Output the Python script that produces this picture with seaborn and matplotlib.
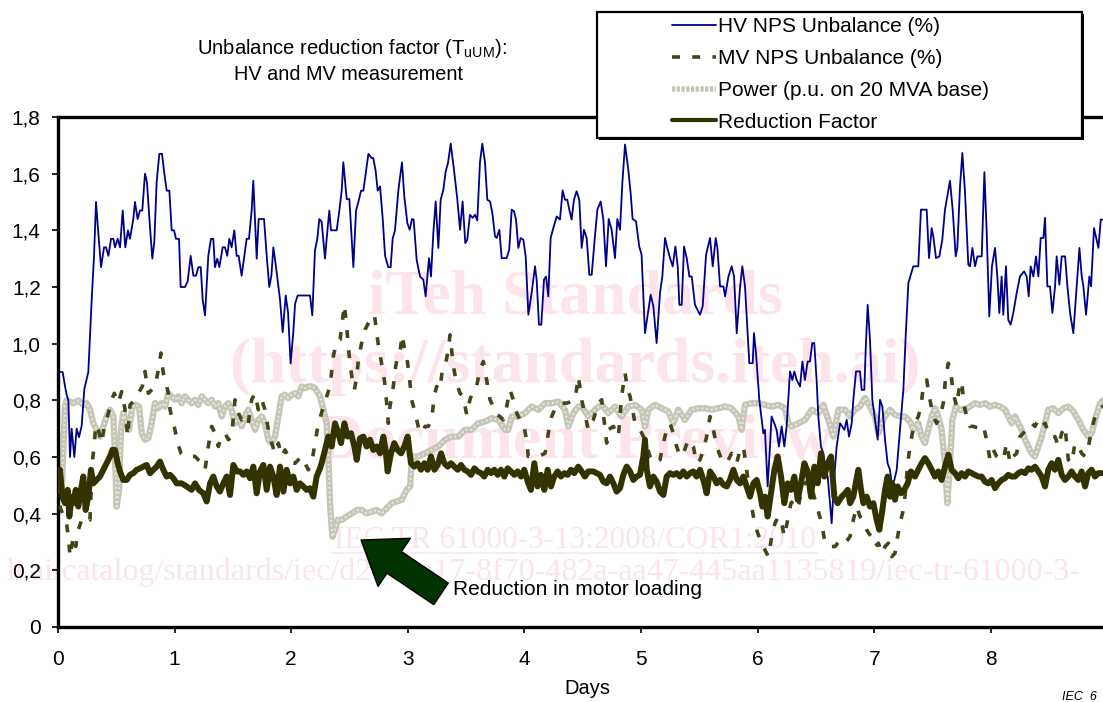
import numpy as np
import pandas as pd
import matplotlib
matplotlib.use("Agg")
import matplotlib.pyplot as plt
import seaborn as sns
from matplotlib.lines import Line2D
from matplotlib.patches import Rectangle, FancyArrowPatch

# ---------------- data ----------------
hv_days = [
 0.017, 0.04, 0.06, 0.074, 0.089, 0.103, 0.117, 0.14, 0.16, 0.18,
 0.203, 0.226, 0.26, 0.289, 0.309, 0.326, 0.346, 0.369, 0.395, 0.412,
 0.432, 0.455, 0.475, 0.489, 0.512, 0.532, 0.555, 0.577, 0.60, 0.617,
 0.646, 0.66, 0.683, 0.703, 0.723, 0.746, 0.763, 0.789, 0.809, 0.826,
 0.846, 0.869, 0.892, 0.909, 0.932, 0.955, 0.975, 0.995, 1.012, 1.026,
 1.038, 1.052, 1.089, 1.112, 1.138, 1.161, 1.184, 1.204, 1.224, 1.241,
 1.261, 1.289, 1.312, 1.332, 1.346, 1.366, 1.384, 1.412, 1.432, 1.452,
 1.469, 1.489, 1.512, 1.532, 1.549, 1.575, 1.598, 1.618, 1.638, 1.661,
 1.675, 1.704, 1.721, 1.767, 1.79, 1.812, 1.83, 1.847, 1.87, 1.904,
 1.927, 1.953, 1.973, 1.995, 2.018, 2.033, 2.055, 2.161, 2.181, 2.204,
 2.224, 2.241, 2.261, 2.29, 2.304, 2.327, 2.341, 2.39, 2.413, 2.433,
 2.447, 2.476, 2.499, 2.533, 2.556, 2.576, 2.599, 2.619, 2.642, 2.662,
 2.69, 2.704, 2.724, 2.742, 2.762, 2.785, 2.805, 2.833, 2.853, 2.87,
 2.89, 2.919,
 2.927, 2.95, 2.97, 2.996, 3.016, 3.036, 3.05, 3.076, 3.105, 3.133,
 3.153, 3.182, 3.199, 3.219, 3.239, 3.262, 3.282, 3.305, 3.325, 3.345,
 3.368, 3.396, 3.425, 3.448, 3.47, 3.493, 3.51, 3.533, 3.556, 3.576,
 3.596, 3.619, 3.639, 3.662, 3.682, 3.705, 3.725, 3.748, 3.762, 3.785,
 3.805, 3.848, 3.87, 3.891, 3.911, 3.928, 3.948, 3.968, 3.991, 4.011,
 4.034, 4.062, 4.091, 4.105, 4.125, 4.145, 4.168, 4.185, 4.205, 4.225,
 4.248, 4.277, 4.305, 4.328, 4.348, 4.368, 4.385, 4.405, 4.425, 4.448,
 4.471, 4.491, 4.511, 4.534, 4.557, 4.577, 4.605, 4.626, 4.654, 4.677,
 4.7, 4.723, 4.748, 4.777, 4.797, 4.82, 4.84, 4.863, 4.891, 4.911,
 4.928, 4.957, 4.985, 5.005, 5.034, 5.057, 5.083, 5.106, 5.134, 5.163,
 5.183, 5.206, 5.226, 5.249, 5.272, 5.295, 5.315, 5.329, 5.349, 5.369,
 5.392, 5.415, 5.435, 5.463, 5.506, 5.529, 5.558, 5.592, 5.615, 5.641,
 5.655, 5.678, 5.707, 5.721, 5.75, 5.778, 5.798, 5.821, 5.85, 5.869,
 5.892, 5.906, 5.929, 5.958, 5.969, 5.986, 6.015,
 6.049, 6.063, 6.086, 6.106, 6.12, 6.143, 6.163, 6.183, 6.206, 6.229,
 6.249, 6.263, 6.278, 6.298, 6.315, 6.335, 6.364, 6.384, 6.406, 6.429,
 6.449, 6.469, 6.486, 6.506, 6.521, 6.543, 6.564, 6.584, 6.601, 6.621,
 6.635, 6.658, 6.678, 6.707,
 6.744, 6.764, 6.784, 6.807, 6.821, 6.844, 6.878, 6.893, 6.915, 6.927,
 6.944, 6.964, 6.984, 7.007, 7.03, 7.05, 7.07, 7.093, 7.115, 7.135,
 7.15, 7.173, 7.193, 7.221, 7.25, 7.27,
 7.293, 7.335, 7.378, 7.401, 7.45, 7.47, 7.493, 7.507, 7.53, 7.559,
 7.584, 7.607, 7.65, 7.673, 7.699, 7.713, 7.736, 7.756, 7.779, 7.807,
 7.822, 7.842, 7.865, 7.885, 7.922, 7.945, 7.965, 7.987, 8.01, 8.036,
 8.056, 8.073, 8.093, 8.107, 8.13, 8.15, 8.17, 8.193, 8.222, 8.25,
 8.285, 8.308, 8.325, 8.342, 8.365, 8.388, 8.408, 8.428, 8.451, 8.465,
 8.485, 8.508, 8.528, 8.551, 8.565, 8.588, 8.608, 8.637, 8.657, 8.68,
 8.708, 8.737, 8.76, 8.78, 8.794, 8.817, 8.845, 8.86, 8.885, 8.923,
 8.943, 8.963,
]
hv_vals = [
 0.90, 0.90, 0.85, 0.82, 0.80, 0.60, 0.70, 0.60, 0.70, 0.67,
 0.71, 0.84, 0.90, 1.155, 1.31, 1.50, 1.39, 1.27, 1.34, 1.34,
 1.31, 1.37, 1.37, 1.34, 1.37, 1.34, 1.47, 1.34, 1.40, 1.37,
 1.44, 1.50, 1.44, 1.47, 1.47, 1.60, 1.57, 1.41, 1.30, 1.36,
 1.57, 1.67, 1.67, 1.61, 1.54, 1.54, 1.40, 1.40, 1.37, 1.37,
 1.37, 1.20, 1.20, 1.22, 1.31, 1.24, 1.24, 1.27, 1.27, 1.155,
 1.10, 1.31, 1.37, 1.37, 1.27, 1.30, 1.27, 1.34, 1.34, 1.31,
 1.37, 1.34, 1.40, 1.31, 1.31, 1.24, 1.31, 1.37, 1.37, 1.47,
 1.575, 1.30, 1.44, 1.44, 1.31, 1.20, 1.24, 1.34, 1.27, 1.155,
 1.04, 1.17, 1.11, 0.93, 1.04, 1.14, 1.17, 1.17, 1.10, 1.33,
 1.37, 1.44, 1.43, 1.30, 1.37, 1.47, 1.40, 1.40, 1.47, 1.54,
 1.64, 1.51, 1.51, 1.27, 1.47, 1.50, 1.54, 1.54, 1.61, 1.67,
 1.655, 1.655, 1.61, 1.54, 1.555, 1.44, 1.31, 1.27, 1.27, 1.37,
 1.40, 1.54,
 1.567, 1.64, 1.52, 1.426, 1.402, 1.44, 1.438, 1.296, 1.237, 1.226,
 1.167, 1.302, 1.237, 1.391, 1.502, 1.338, 1.508, 1.544, 1.608, 1.638,
 1.706, 1.614, 1.508, 1.402, 1.502, 1.355, 1.367, 1.455, 1.444, 1.455,
 1.435, 1.64, 1.706, 1.64, 1.508, 1.502, 1.461, 1.379, 1.373, 1.402,
 1.302, 1.302, 1.332, 1.473, 1.467, 1.438, 1.338, 1.373, 1.367, 1.308,
 1.102, 1.179, 1.273, 1.226, 1.067, 1.067, 1.226, 1.237, 1.167, 1.373,
 1.408, 1.449, 1.438, 1.541, 1.508, 1.508, 1.473, 1.438, 1.508, 1.538,
 1.508, 1.338, 1.402, 1.373, 1.243, 1.243, 1.379, 1.473, 1.502, 1.438,
 1.273, 1.44, 1.402, 1.302, 1.44, 1.402, 1.567, 1.703, 1.614, 1.532,
 1.44, 1.432, 1.343, 1.314, 1.037, 1.102, 1.173, 1.132, 1.002, 1.179,
 1.237, 1.373, 1.338, 1.302, 1.273, 1.343, 1.273, 1.137, 1.137, 1.343,
 1.302, 1.237, 1.237, 1.137, 1.102, 1.132, 1.314, 1.373, 1.273, 1.373,
 1.338, 1.202, 1.202, 1.167, 1.237, 1.273, 1.237, 1.037, 1.202, 1.273,
 1.202, 1.102, 0.931, 0.931, 1.037, 0.967, 0.801,
 0.684, 0.696, 0.496, 0.637, 0.743, 0.719, 0.696, 0.637, 0.708, 0.637,
 0.708, 0.802, 0.902, 0.872, 0.902, 0.872, 0.849, 0.937, 0.872, 0.937,
 0.937, 1.002, 1.002, 0.872, 0.743, 0.637, 0.613, 0.555, 0.531, 0.437,
 0.366, 0.531, 0.637, 0.719,
 0.696, 0.731, 0.672, 0.719, 0.802, 0.902, 0.902, 0.837, 0.837, 0.978,
 1.137, 1.014, 0.802, 0.731, 0.661, 0.802, 0.778, 0.661, 0.578, 0.555,
 0.507, 0.519, 0.555, 0.696, 0.837, 1.026,
 1.214, 1.273, 1.273, 1.473, 1.473, 1.302, 1.408, 1.379, 1.302, 1.308,
 1.367, 1.473, 1.575, 1.473, 1.308, 1.338, 1.555, 1.673, 1.532, 1.279,
 1.273, 1.338, 1.273, 1.308, 1.308, 1.605, 1.391, 1.096, 1.273, 1.338,
 1.237, 1.108, 1.237, 1.102, 1.273, 1.084, 1.067, 1.108, 1.179, 1.237,
 1.255, 1.237, 1.167, 1.273, 1.237, 1.308, 1.237, 1.373, 1.373, 1.444,
 1.202, 1.202, 1.108, 1.202, 1.308, 1.208, 1.308, 1.308, 1.202, 1.108,
 1.037, 1.202, 1.338, 1.237, 1.202, 1.102, 1.237, 1.202, 1.408, 1.338,
 1.438, 1.438,
]

mv_days = [
 0.0, 0.02, 0.074, 0.094, 0.103, 0.132, 0.152, 0.174, 0.203, 0.246,
 0.274, 0.294, 0.312, 0.323, 0.346, 0.375, 0.397, 0.432, 0.46, 0.483,
 0.517, 0.546, 0.575, 0.597, 0.618, 0.66, 0.689, 0.723, 0.746, 0.775,
 0.832, 0.861, 0.883, 0.903, 0.923, 0.946, 0.961, 0.981, 1.003, 1.026,
 1.055, 1.089, 1.175, 1.232, 1.261, 1.289, 1.318, 1.347, 1.375, 1.404,
 1.432, 1.461, 1.489, 1.518, 1.547, 1.575, 1.604, 1.632, 1.661, 1.69,
 1.718, 1.747, 1.775, 1.804, 1.833, 1.861, 1.89, 1.918, 1.947, 1.975,
 2.004, 2.033, 2.09, 2.118, 2.147, 2.176, 2.204, 2.233,
 2.304, 2.333, 2.361, 2.39, 2.419, 2.439, 2.456, 2.476, 2.49, 2.504,
 2.524, 2.542, 2.562, 2.576, 2.604, 2.633, 2.662, 2.69, 2.713, 2.727,
 2.747, 2.77, 2.79, 2.804, 2.819, 2.833, 2.847, 2.876, 2.896, 2.913,
 2.933, 2.953, 2.97, 2.99, 3.01, 3.033, 3.056, 3.076, 3.096, 3.125,
 3.147, 3.176, 3.204, 3.227, 3.247, 3.276, 3.296, 3.319, 3.348, 3.362,
 3.376, 3.39, 3.419, 3.448, 3.476, 3.505, 3.533, 3.562, 3.59, 3.619,
 3.648, 3.676, 3.705, 3.733, 3.762, 3.791, 3.819, 3.848, 3.876, 3.905,
 3.934, 3.962, 3.991, 4.019, 4.033, 4.076, 4.119, 4.177, 4.205, 4.234,
 4.277, 4.319, 4.362, 4.405, 4.434,
 4.463, 4.491, 4.548, 4.591, 4.634, 4.663, 4.706, 4.72, 4.763, 4.806,
 4.834, 4.863, 4.886, 4.906, 4.949, 4.992, 5.034, 5.077, 5.12, 5.163,
 5.192, 5.22, 5.249, 5.277, 5.306, 5.334, 5.363, 5.406, 5.449, 5.477,
 5.506, 5.535, 5.563, 5.592, 5.621, 5.649, 5.692, 5.735, 5.777, 5.821,
 5.849, 5.878, 5.906, 5.935, 5.964, 6.001, 6.035, 6.064, 6.092, 6.121,
 6.149, 6.178, 6.207, 6.229, 6.258, 6.286, 6.321, 6.349, 6.378, 6.406,
 6.449, 6.492, 6.55, 6.578, 6.621, 6.664, 6.707,
 6.75, 6.793, 6.821, 6.85, 6.878, 6.907, 6.935, 6.973, 7.007, 7.036,
 7.064, 7.093, 7.121, 7.15, 7.178, 7.201, 7.221, 7.25, 7.27, 7.287,
 7.307, 7.327, 7.35, 7.378, 7.401, 7.421, 7.45, 7.478, 7.507, 7.535,
 7.564, 7.593, 7.613, 7.636, 7.658, 7.678, 7.707, 7.727, 7.75, 7.773,
 7.793, 7.821, 7.85, 7.893, 7.921, 7.944, 7.964, 7.993, 8.022, 8.05,
 8.079, 8.107, 8.136, 8.165, 8.193, 8.222, 8.25, 8.279, 8.308, 8.351,
 8.379, 8.408, 8.436, 8.465, 8.508, 8.551, 8.579, 8.608, 8.636, 8.665,
 8.694, 8.722, 8.751, 8.779, 8.808, 8.837, 8.865, 8.894, 8.922, 8.962,
]
mv_vals = [
 0.50, 0.42, 0.366, 0.296, 0.248, 0.319, 0.284, 0.343, 0.378, 0.39,
 0.378, 0.578, 0.649, 0.714, 0.696, 0.649, 0.708, 0.755, 0.802, 0.825,
 0.79, 0.831, 0.767, 0.672, 0.784, 0.802, 0.825, 0.849, 0.902, 0.825,
 0.849, 0.908, 0.967, 0.896, 0.867, 0.825, 0.767, 0.731, 0.696, 0.649,
 0.613, 0.602, 0.602, 0.578, 0.555, 0.637, 0.708, 0.684, 0.637, 0.672,
 0.684, 0.661, 0.672, 0.802, 0.755, 0.731, 0.743, 0.719, 0.802, 0.825,
 0.767, 0.802, 0.767, 0.696, 0.649, 0.613, 0.649, 0.602, 0.625, 0.602,
 0.578, 0.578, 0.602, 0.578, 0.555, 0.578, 0.649, 0.719,
 0.814, 0.849, 0.955, 1.008, 1.014, 1.079, 1.137, 1.061, 0.99, 0.931,
 0.872, 0.837, 0.884, 0.943, 1.002, 1.049, 1.073, 1.09, 1.102, 1.061,
 0.996, 0.943, 0.896, 0.855, 0.79, 0.719, 0.778, 0.849, 0.92, 0.955,
 0.973, 1.031, 0.984, 0.955, 0.896, 0.802, 0.767, 0.731, 0.696, 0.684,
 0.708, 0.708, 0.731, 0.814, 0.849, 0.837, 0.908, 0.92, 0.978, 1.031,
 0.978, 0.92, 0.861, 0.825, 0.814, 0.749, 0.802, 0.837, 0.849, 0.908,
 0.937, 0.872, 0.802, 0.778, 0.749, 0.743, 0.731, 0.778, 0.837, 0.802,
 0.755, 0.731, 0.719, 0.661, 0.602, 0.602, 0.602, 0.613, 0.684, 0.743,
 0.784, 0.79, 0.79, 0.796, 0.802,
 0.884, 0.802, 0.696, 0.731, 0.79, 0.802, 0.649, 0.696, 0.708, 0.672,
 0.814, 0.896, 0.837, 0.814, 0.719, 0.696, 0.661, 0.602, 0.578, 0.59,
 0.649, 0.696, 0.719, 0.684, 0.637, 0.602, 0.613, 0.661, 0.637, 0.578,
 0.59, 0.625, 0.672, 0.743, 0.696, 0.637, 0.59, 0.578, 0.613, 0.578,
 0.625, 0.637, 0.555, 0.46, 0.39, 0.331, 0.296, 0.272, 0.248, 0.319,
 0.366, 0.39, 0.366, 0.319, 0.378, 0.437, 0.449, 0.425, 0.484, 0.507,
 0.519, 0.449, 0.366, 0.296, 0.284, 0.284, 0.307,
 0.296, 0.319, 0.378, 0.425, 0.39, 0.366, 0.343, 0.319, 0.284, 0.296,
 0.26, 0.284, 0.296, 0.248, 0.26, 0.319, 0.366, 0.413, 0.484, 0.578,
 0.637, 0.684, 0.719, 0.743, 0.778, 0.849, 0.872, 0.802, 0.743, 0.719,
 0.743, 0.79, 0.884, 0.931, 0.896, 0.825, 0.778, 0.837, 0.867, 0.778,
 0.743, 0.708, 0.708, 0.702, 0.684, 0.696, 0.661, 0.59, 0.625, 0.602,
 0.59, 0.59, 0.649, 0.578, 0.602, 0.613, 0.672, 0.684, 0.708, 0.719,
 0.708, 0.731, 0.708, 0.719, 0.672, 0.672, 0.637, 0.684, 0.708, 0.59,
 0.578, 0.649, 0.637, 0.613, 0.602, 0.637, 0.696, 0.743, 0.767, 0.78,
]

power_days = [
 0.0, 0.03, 0.06, 0.074, 0.132, 0.174, 0.217, 0.246, 0.274, 0.303,
 0.332, 0.36, 0.389, 0.417, 0.446, 0.475, 0.489, 0.503, 0.523, 0.54,
 0.56, 0.589, 0.609, 0.638, 0.666, 0.695, 0.718, 0.746, 0.775, 0.803,
 0.832, 0.861, 0.889, 0.918, 0.946, 0.975, 1.003, 1.032, 1.061, 1.089,
 1.118, 1.146, 1.175, 1.204, 1.232, 1.261, 1.289, 1.318, 1.347, 1.375,
 1.404, 1.432, 1.461, 1.489, 1.518, 1.547, 1.575, 1.604, 1.632, 1.661,
 1.69, 1.718, 1.747, 1.775, 1.804, 1.833, 1.861, 1.89, 1.918, 1.947,
 1.975, 2.004, 2.033, 2.061, 2.09, 2.118, 2.147, 2.176, 2.204,
 2.247, 2.276, 2.304, 2.318, 2.333, 2.353, 2.376, 2.399, 2.433,
 2.476, 2.519, 2.562, 2.604, 2.647, 2.69, 2.733, 2.776, 2.819, 2.861,
 2.904, 2.947, 2.99, 3.019, 3.033, 3.047, 3.09, 3.147, 3.204, 3.262,
 3.319, 3.376, 3.433, 3.49, 3.547, 3.605, 3.662, 3.719, 3.776, 3.834,
 3.862, 3.891, 3.948, 4.005, 4.062, 4.119, 4.177, 4.234, 4.291, 4.348,
 4.377, 4.42, 4.462,
 4.491, 4.548, 4.606, 4.663, 4.72, 4.777, 4.834, 4.892, 4.949, 5.006,
 5.034, 5.063, 5.12, 5.177, 5.234, 5.277, 5.32, 5.377, 5.434, 5.492,
 5.549, 5.606, 5.663, 5.72, 5.777, 5.835, 5.863, 5.892, 5.949, 6.006,
 6.063, 6.12, 6.178, 6.235, 6.264, 6.292, 6.35, 6.407, 6.464, 6.521,
 6.564, 6.607, 6.65, 6.693,
 6.75, 6.793, 6.835, 6.878, 6.921, 6.964, 7.007, 7.036, 7.064,
 7.093, 7.135, 7.178, 7.221, 7.264, 7.307, 7.335, 7.378, 7.407, 7.435,
 7.464, 7.493, 7.521, 7.55, 7.578, 7.607, 7.627, 7.65, 7.67, 7.699,
 7.736, 7.779, 7.821, 7.864, 7.907, 7.95, 7.993, 8.036, 8.079, 8.122,
 8.15, 8.179, 8.207, 8.236, 8.265, 8.293, 8.322, 8.35, 8.379, 8.408,
 8.436, 8.465, 8.493, 8.536, 8.579, 8.622, 8.665, 8.708, 8.751, 8.794,
 8.837, 8.865, 8.894, 8.937, 8.962,
]
power_vals = [
 0.47, 0.46, 0.78, 0.80, 0.79, 0.80, 0.784, 0.79, 0.767, 0.719,
 0.696, 0.672, 0.708, 0.743, 0.767, 0.743, 0.602, 0.425, 0.484, 0.696,
 0.755, 0.719, 0.696, 0.778, 0.784, 0.778, 0.684, 0.661, 0.666, 0.719,
 0.79, 0.772, 0.79, 0.778, 0.825, 0.814, 0.802, 0.814, 0.79, 0.814,
 0.802, 0.79, 0.802, 0.784, 0.814, 0.802, 0.79, 0.802, 0.778, 0.79,
 0.743, 0.778, 0.79, 0.767, 0.719, 0.743, 0.708, 0.743, 0.767, 0.731,
 0.696, 0.731, 0.743, 0.719, 0.661, 0.649, 0.672, 0.743, 0.814, 0.82,
 0.808, 0.82, 0.825, 0.814, 0.849, 0.843, 0.849, 0.849, 0.843,
 0.814, 0.767, 0.719, 0.602, 0.437, 0.319, 0.343, 0.378, 0.378,
 0.39, 0.401, 0.413, 0.413, 0.401, 0.407, 0.413, 0.401, 0.419, 0.437,
 0.443, 0.449, 0.484, 0.496, 0.578, 0.602, 0.602, 0.613, 0.625, 0.637,
 0.661, 0.672, 0.672, 0.696, 0.696, 0.719, 0.725, 0.737, 0.731, 0.696,
 0.696, 0.743, 0.743, 0.755, 0.778, 0.767, 0.79, 0.79, 0.796, 0.767,
 0.708, 0.755, 0.778,
 0.778, 0.743, 0.767, 0.784, 0.755, 0.778, 0.743, 0.778, 0.784, 0.767,
 0.708, 0.767, 0.784, 0.772, 0.761, 0.719, 0.767, 0.731, 0.767, 0.772,
 0.772, 0.767, 0.772, 0.778, 0.772, 0.743, 0.696, 0.784, 0.79, 0.79,
 0.784, 0.778, 0.784, 0.772, 0.719, 0.708, 0.719, 0.731, 0.767, 0.755,
 0.784, 0.731, 0.672, 0.767,
 0.767, 0.743, 0.767, 0.778, 0.808, 0.778, 0.743, 0.684, 0.719,
 0.743, 0.767, 0.749, 0.743, 0.743, 0.725, 0.696, 0.719, 0.672, 0.649,
 0.696, 0.743, 0.772, 0.743, 0.696, 0.578, 0.437, 0.578, 0.731, 0.778,
 0.767, 0.767, 0.778, 0.79, 0.784, 0.79, 0.778, 0.784, 0.778, 0.767,
 0.743, 0.719, 0.743, 0.719, 0.696, 0.661, 0.637, 0.613, 0.602, 0.637,
 0.672, 0.719, 0.767, 0.772, 0.755, 0.772, 0.778, 0.761, 0.731, 0.696,
 0.672, 0.684, 0.731, 0.79, 0.80,
]

rf_days = [
 0.017, 0.037, 0.06, 0.083, 0.097, 0.117, 0.132, 0.152, 0.174, 0.197,
 0.217, 0.237, 0.26, 0.283, 0.303, 0.332, 0.36, 0.389, 0.417, 0.446,
 0.466, 0.489, 0.512, 0.532, 0.56, 0.589, 0.617, 0.646, 0.675, 0.703,
 0.732, 0.76, 0.789, 0.818, 0.846, 0.875, 0.903, 0.932, 0.961, 0.989,
 1.018, 1.061, 1.104, 1.146, 1.175, 1.209, 1.246, 1.275, 1.304, 1.332,
 1.361, 1.389, 1.418, 1.447, 1.475, 1.504, 1.532, 1.561, 1.589, 1.618,
 1.647, 1.675, 1.704, 1.732, 1.761, 1.79, 1.818, 1.847, 1.875, 1.904,
 1.933, 1.961, 1.99, 2.018, 2.047, 2.075, 2.104, 2.133, 2.161, 2.19,
 2.218, 2.247,
 2.261, 2.29, 2.318, 2.347, 2.376, 2.404, 2.427, 2.456, 2.484, 2.513,
 2.542, 2.562, 2.59, 2.619, 2.647, 2.676, 2.704, 2.733, 2.762, 2.79,
 2.81, 2.827, 2.856, 2.884, 2.913, 2.942, 2.97, 2.999, 3.027, 3.056,
 3.085, 3.113, 3.142, 3.17, 3.199, 3.228, 3.256, 3.285, 3.313, 3.342,
 3.37, 3.399, 3.428, 3.456, 3.485, 3.513, 3.542, 3.571, 3.599, 3.628,
 3.656, 3.685, 3.714, 3.742, 3.771, 3.799, 3.828, 3.856, 3.885, 3.914,
 3.942, 3.971, 3.999, 4.028, 4.056, 4.085, 4.113, 4.142, 4.171, 4.199,
 4.228, 4.256, 4.285, 4.313, 4.342, 4.371, 4.399, 4.428, 4.462,
 4.491, 4.519, 4.548, 4.591, 4.62, 4.648, 4.677, 4.705, 4.734, 4.763,
 4.791, 4.82, 4.848, 4.877, 4.906, 4.934, 4.963, 4.991, 5.02, 5.034,
 5.049, 5.077, 5.106, 5.134, 5.163, 5.192, 5.22, 5.249, 5.277, 5.306,
 5.334, 5.363, 5.392, 5.42, 5.449, 5.477, 5.506, 5.535, 5.563, 5.592,
 5.621, 5.649, 5.678, 5.706, 5.735, 5.763, 5.792, 5.821, 5.849, 5.878,
 5.906, 5.935, 5.964, 5.992, 6.021, 6.041, 6.064, 6.086, 6.115, 6.144,
 6.172, 6.201, 6.229, 6.258, 6.286, 6.315, 6.344, 6.372, 6.401, 6.429,
 6.458, 6.487, 6.515, 6.544, 6.572, 6.601, 6.63, 6.658, 6.686,
 6.721, 6.75, 6.773, 6.793, 6.821, 6.841, 6.864, 6.887, 6.907, 6.935,
 6.964, 6.993, 7.021, 7.044, 7.07, 7.093, 7.115, 7.135, 7.155, 7.178,
 7.201, 7.23, 7.258, 7.287, 7.315, 7.35, 7.378, 7.407, 7.435, 7.464,
 7.493, 7.521, 7.55, 7.578, 7.607, 7.636, 7.664, 7.693, 7.721, 7.75,
 7.779, 7.807, 7.836, 7.864, 7.893, 7.921, 7.95, 7.979, 8.007, 8.036,
 8.064, 8.093, 8.122, 8.15, 8.179, 8.207, 8.236, 8.265, 8.293, 8.322,
 8.35, 8.379, 8.408, 8.436, 8.465, 8.493, 8.522, 8.55, 8.579, 8.608,
 8.636, 8.665, 8.693, 8.722, 8.75, 8.779, 8.808, 8.836, 8.865, 8.893,
 8.922, 8.95,
]
rf_vals = [
 0.555, 0.46, 0.437, 0.484, 0.39, 0.46, 0.437, 0.484, 0.425, 0.484,
 0.531, 0.413, 0.46, 0.555, 0.507, 0.519, 0.531, 0.555, 0.578, 0.602,
 0.625, 0.625, 0.578, 0.549, 0.519, 0.519, 0.537, 0.543, 0.555, 0.56,
 0.566, 0.572, 0.543, 0.555, 0.566, 0.584, 0.555, 0.531, 0.537, 0.525,
 0.507, 0.507, 0.496, 0.484, 0.507, 0.484, 0.472, 0.443, 0.507, 0.531,
 0.496, 0.478, 0.507, 0.531, 0.466, 0.572, 0.549, 0.549, 0.537, 0.549,
 0.525, 0.566, 0.472, 0.549, 0.572, 0.484, 0.566, 0.531, 0.466, 0.566,
 0.478, 0.555, 0.507, 0.531, 0.484, 0.507, 0.496, 0.484, 0.49, 0.46,
 0.531, 0.56,
 0.578, 0.625, 0.672, 0.637, 0.719, 0.684, 0.649, 0.719, 0.672, 0.684,
 0.637, 0.59, 0.666, 0.672, 0.637, 0.661, 0.625, 0.637, 0.613, 0.672,
 0.625, 0.549, 0.613, 0.649, 0.625, 0.613, 0.637, 0.672, 0.578, 0.566,
 0.578, 0.555, 0.578, 0.555, 0.602, 0.555, 0.572, 0.613, 0.578, 0.566,
 0.578, 0.566, 0.555, 0.572, 0.555, 0.549, 0.537, 0.56, 0.549, 0.543,
 0.531, 0.555, 0.543, 0.555, 0.537, 0.555, 0.531, 0.56, 0.549, 0.537,
 0.549, 0.531, 0.555, 0.513, 0.484, 0.578, 0.496, 0.537, 0.484, 0.555,
 0.496, 0.531, 0.549, 0.531, 0.543, 0.537, 0.555, 0.543, 0.566,
 0.549, 0.531, 0.549, 0.549, 0.543, 0.537, 0.513, 0.507, 0.531, 0.507,
 0.478, 0.49, 0.537, 0.566, 0.549, 0.519, 0.531, 0.537, 0.602, 0.661,
 0.555, 0.496, 0.531, 0.513, 0.478, 0.466, 0.531, 0.543, 0.537, 0.543,
 0.531, 0.549, 0.531, 0.543, 0.549, 0.531, 0.555, 0.519, 0.472, 0.549,
 0.531, 0.507, 0.519, 0.502, 0.496, 0.519, 0.555, 0.519, 0.507, 0.531,
 0.496, 0.46, 0.507, 0.519, 0.472, 0.425, 0.46, 0.39, 0.472, 0.555,
 0.602, 0.531, 0.437, 0.507, 0.484, 0.531, 0.449, 0.507, 0.578, 0.549,
 0.46, 0.566, 0.507, 0.613, 0.531, 0.578, 0.602, 0.46, 0.437,
 0.46, 0.472, 0.484, 0.437, 0.46, 0.507, 0.555, 0.484, 0.437, 0.46,
 0.425, 0.437, 0.378, 0.343, 0.413, 0.484, 0.531, 0.46, 0.507, 0.449,
 0.496, 0.472, 0.484, 0.507, 0.549, 0.531, 0.555, 0.578, 0.596, 0.578,
 0.555, 0.531, 0.549, 0.519, 0.566, 0.608, 0.555, 0.543, 0.525, 0.543,
 0.531, 0.549, 0.543, 0.537, 0.531, 0.531, 0.513, 0.507, 0.519, 0.49,
 0.507, 0.519, 0.525, 0.537, 0.531, 0.531, 0.543, 0.549, 0.543, 0.56,
 0.555, 0.566, 0.549, 0.531, 0.496, 0.555, 0.578, 0.555, 0.59, 0.537,
 0.519, 0.531, 0.549, 0.531, 0.519, 0.549, 0.496, 0.543, 0.555, 0.531,
 0.543, 0.543,
]

series_labels = ["HV NPS Unbalance (%)", "MV NPS Unbalance (%)",
                 "Power (p.u. on 20 MVA base)", "Reduction Factor"]
x_ticks = [0, 1, 2, 3, 4, 5, 6, 7, 8]
y_ticks = [0, 0.2, 0.4, 0.6, 0.8, 1.0, 1.2, 1.4, 1.6, 1.8]
y_tick_labels = ["0", "0,2", "0,4", "0,6", "0,8", "1,0", "1,2", "1,4", "1,6", "1,8"]

for name, a, b in [("hv", hv_days, hv_vals), ("mv", mv_days, mv_vals),
                   ("power", power_days, power_vals), ("rf", rf_days, rf_vals)]:
    if len(a) != len(b):
        raise ValueError(f"{name}: {len(a)} days vs {len(b)} values")

# ---------------- style ----------------
sns.set_theme(style="white")
plt.rcParams['font.family'] = ['Liberation Sans', 'DejaVu Sans']
plt.rcParams['mathtext.fontset'] = 'custom'
plt.rcParams['mathtext.rm'] = 'Liberation Sans'
plt.rcParams['mathtext.it'] = 'Liberation Sans:italic'

W, H = 1103, 702
fig = plt.figure(figsize=(W / 100, H / 100), dpi=100)
fig.patch.set_facecolor("white")
ax = fig.add_axes([58 / W, 1 - 627 / H, 1 - 58 / W, (627 - 117) / H])
ax.set_facecolor("white")

HV_C = "#00008b"
MV_C = "#45451a"
PW_C = "#c6c6b8"
PW_C2 = "#eeeee6"
RF_C = "#333300"
WM_C = "#fce4ea"

def fx(px):
    return px / W

def fy(py):
    return 1 - py / H

# ---------------- watermark (behind the data) ----------------
wm_kw = dict(transform=fig.transFigure, color=WM_C, zorder=0.5, clip_on=False,
             family=['Liberation Serif', 'DejaVu Serif'])
ax.text(fx(575), fy(313), "iTeh Standards", ha="center", va="baseline",
        fontsize=46, fontweight="bold", **wm_kw)
ax.text(fx(575), fy(382), "(https://standards.iteh.ai)", ha="center", va="baseline",
        fontsize=46, fontweight="bold", **wm_kw)
ax.text(fx(575), fy(458), "Document Preview", ha="center", va="baseline",
        fontsize=46, fontweight="bold", **wm_kw)
ax.text(fx(575), fy(548), "IEC TR 61000-3-13:2008/COR1:2010", ha="center",
        va="baseline", fontsize=22.5, **wm_kw)
ax.plot([fx(332), fx(818)], [fy(553), fy(553)], transform=fig.transFigure,
        color=WM_C, lw=1.2, zorder=0.5, clip_on=False)
ax.text(fx(7), fy(580),
        "h.ai/catalog/standards/iec/d2480a17-8f70-482a-aa47-445aa1135819/iec-tr-61000-3-",
        ha="left", va="baseline", fontsize=23, **wm_kw)

# ---------------- data lines ----------------
df_pw = pd.DataFrame({"Days": power_days, "Value": power_vals})
df_hv = pd.DataFrame({"Days": hv_days, "Value": hv_vals})
df_mv = pd.DataFrame({"Days": mv_days, "Value": mv_vals})
df_rf = pd.DataFrame({"Days": rf_days, "Value": rf_vals})

sns.lineplot(data=df_pw, x="Days", y="Value", ax=ax, color=PW_C, linewidth=4.6,
             estimator=None, sort=False, legend=False, zorder=2)
sns.lineplot(data=df_pw, x="Days", y="Value", ax=ax, color=PW_C2, linewidth=1.3,
             estimator=None, sort=False, legend=False, zorder=2.1)
ax.lines[-1].set_dashes([1, 1.6])
sns.lineplot(data=df_hv, x="Days", y="Value", ax=ax, color=HV_C, linewidth=1.3,
             estimator=None, sort=False, legend=False, zorder=3)
sns.lineplot(data=df_mv, x="Days", y="Value", ax=ax, color=MV_C, linewidth=2.6,
             estimator=None, sort=False, legend=False, zorder=4)
ax.lines[-1].set_dashes([2.2, 3.4])
sns.lineplot(data=df_rf, x="Days", y="Value", ax=ax, color=RF_C, linewidth=4.3,
             estimator=None, sort=False, legend=False, zorder=5)

# ---------------- axes ----------------
ax.set_xlim(0, (1103 - 58) / 116.6)
ax.set_ylim(0, 1.8)
ax.set_xticks(x_ticks)
ax.set_xticklabels([str(v) for v in x_ticks])
ax.set_yticks(y_ticks)
ax.set_yticklabels(y_tick_labels)
ax.set_xlabel("")
ax.set_ylabel("")
ax.grid(False)
for side in ["left", "bottom", "top"]:
    ax.spines[side].set_visible(True)
    ax.spines[side].set_color("black")
    ax.spines[side].set_linewidth(2.4)
ax.spines["right"].set_visible(False)
ax.tick_params(axis="both", which="major", direction="out", length=4.5, width=1.2,
               color="black", labelsize=15, labelcolor="black")
ax.tick_params(axis="y", pad=8, left=True)
ax.tick_params(axis="x", pad=12, bottom=True, top=False)

fig.text(fx(587), fy(688), "Days", ha="center", va="center", fontsize=14.5, color="black")

# ---------------- title ----------------
fig.text(fx(352), fy(49), r"Unbalance reduction factor (T$_{\mathrm{uUM}}$):",
         ha="center", va="center", fontsize=14.6, color="black")
fig.text(fx(348), fy(74), "HV and MV measurement", ha="center", va="center",
         fontsize=14.3, color="black")

# ---------------- annotation arrow ----------------
arrow = FancyArrowPatch(posA=(3.285, 0.117), posB=(2.599, 0.307),
                        arrowstyle="simple,head_length=2.0,head_width=2.9,tail_width=1.3",
                        mutation_scale=14.4, facecolor="#003300", edgecolor="black",
                        linewidth=1.0, shrinkA=0, shrinkB=0, zorder=6)
ax.add_patch(arrow)
ax.text((453 - 58) / 116.6, (627 - 590) / 283.1, "Reduction in motor loading",
        ha="left", va="center", fontsize=15, color="black", zorder=6)

# ---------------- legend box ----------------
shadow = Rectangle((fx(599), fy(140)), (1084 - 599) / W, (140 - 14) / H,
                   transform=fig.transFigure, facecolor="black", edgecolor="black",
                   lw=0, zorder=10)
box = Rectangle((fx(597), fy(138)), (1082 - 597) / W, (138 - 12) / H,
                transform=fig.transFigure, facecolor="white", edgecolor="black",
                lw=1.6, zorder=11)
fig.patches.extend([shadow, box])

h_hv = Line2D([], [], color=HV_C, lw=1.3)
h_mv = Line2D([], [], color=MV_C, lw=2.6, dashes=[2.2, 3.4])
h_pw = Line2D([], [], color=PW_C, lw=4.0, dashes=[0.6, 0.25])
h_rf = Line2D([], [], color=RF_C, lw=3.0, solid_capstyle="round")
leg = fig.legend([h_hv, h_mv, h_pw, h_rf], series_labels, loc="upper left",
                 bbox_to_anchor=(fx(672), fy(17)), frameon=False, fontsize=15,
                 handlelength=2.1, handletextpad=0.1, labelspacing=0.62,
                 borderpad=0, borderaxespad=0)
leg.set_zorder(12)
for t in leg.get_texts():
    t.set_color("black")

# small corner note
fig.text(fx(1062), fy(700), "IEC  6", ha="left", va="baseline", fontsize=9,
         style="italic", color="black")

fig.savefig("out.png", dpi=100, facecolor="white")
